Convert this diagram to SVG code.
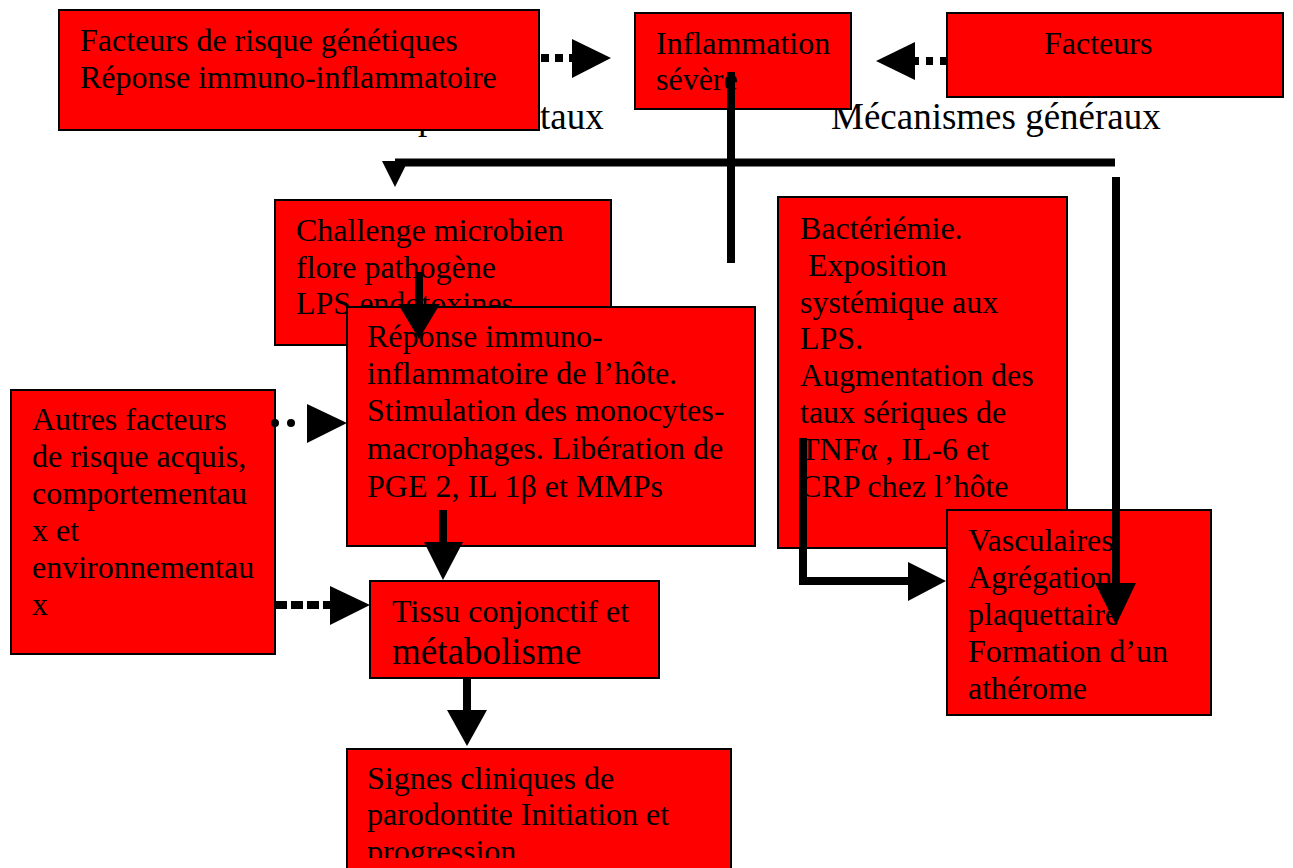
<svg xmlns="http://www.w3.org/2000/svg" width="1293" height="868" viewBox="0 0 1293 868">
<style>
.box{fill:#ff0000;stroke:#000;stroke-width:2}
.t{font-family:"Liberation Serif","Times New Roman",serif;font-size:32px;fill:#000}
.big{font-family:"Liberation Serif","Times New Roman",serif;font-size:37px;fill:#000}
.ln{fill:none;stroke:#000;stroke-width:8}
.head{fill:#000}
</style>
<defs>
<clipPath id="clipH"><rect x="347" y="749" width="384" height="109"/></clipPath>
</defs>
<rect width="1293" height="868" fill="#fff"/>
<g id="label-parodontaux">
<text class="big" x="418" y="129">p</text>
<text class="big" x="540" y="129">taux</text>
</g>
<g id="label-generaux">
<text class="big" x="831" y="129">Mécanismes généraux</text>
</g>
<g id="node-genetiques">
<rect class="box" x="59" y="10" width="480" height="120"/>
<text class="t" x="80" y="51">Facteurs de risque génétiques</text>
<text class="t" x="80" y="88">Réponse immuno-inflammatoire</text>
</g>
<g id="node-inflammation">
<rect class="box" x="635" y="13" width="216" height="96"/>
<text class="t" x="656" y="54">Inflammation</text>
<text class="t" x="656" y="90">sévère</text>
</g>
<g id="node-facteurs">
<rect class="box" x="947" y="13" width="336" height="84"/>
<text class="t" x="1044" y="54">Facteurs</text>
</g>
<g id="node-challenge">
<rect class="box" x="275" y="200" width="336" height="145"/>
<text class="t" x="296" y="241">Challenge microbien</text>
<text class="t" x="296" y="278">flore pathogène</text>
<text class="t" x="296" y="314">LPS endotoxines</text>
</g>
<g id="node-reponse">
<rect class="box" x="347" y="307" width="408" height="239"/>
<text class="t" x="367" y="347">Réponse immuno-</text>
<text class="t" x="367" y="384">inflammatoire de l’hôte.</text>
<text class="t" x="367" y="421">Stimulation des monocytes-</text>
<text class="t" x="367" y="459">macrophages. Libération de</text>
<text class="t" x="367" y="497">PGE 2, IL 1β et MMPs</text>
</g>
<g id="node-autres">
<rect class="box" x="11" y="390" width="264" height="264"/>
<text class="t" x="32" y="430">Autres facteurs</text>
<text class="t" x="32" y="467">de risque acquis,</text>
<text class="t" x="32" y="504">comportementau</text>
<text class="t" x="32" y="541">x et</text>
<text class="t" x="32" y="578">environnementau</text>
<text class="t" x="32" y="615">x</text>
</g>
<g id="node-tissu">
<rect class="box" x="370" y="581" width="289" height="97"/>
<text class="t" x="392" y="622">Tissu conjonctif et</text>
<text class="big" x="392" y="664">métabolisme</text>
</g>
<g id="node-signes">
<rect class="box" x="347" y="749" width="384" height="140"/>
<g clip-path="url(#clipH)">
<text class="t" x="367" y="789">Signes cliniques de</text>
<text class="t" x="367" y="825">parodontite Initiation et</text>
<text class="t" x="367" y="862">progression</text>
</g>
</g>
<g id="node-bacteriemie">
<rect class="box" x="778" y="197" width="289" height="351"/>
<text class="t" x="800" y="239">Bactériémie.</text>
<text class="t" x="808" y="276">Exposition</text>
<text class="t" x="800" y="313">systémique aux</text>
<text class="t" x="800" y="349">LPS.</text>
<text class="t" x="800" y="386">Augmentation des</text>
<text class="t" x="800" y="423">taux sériques de</text>
<text class="t" x="800" y="460">TNFα , IL-6 et</text>
<text class="t" x="800" y="497">CRP chez l’hôte</text>
</g>
<g id="node-vasculaires">
<rect class="box" x="947" y="510" width="264" height="205"/>
<text class="t" x="968" y="551">Vasculaires</text>
<text class="t" x="968" y="588">Agrégation</text>
<text class="t" x="968" y="625">plaquettaire</text>
<text class="t" x="968" y="662">Formation d’un</text>
<text class="t" x="968" y="699">athérome</text>
</g>
<g id="connectors">
<path class="ln" d="M541 58 H572" stroke-dasharray="8 6"/>
<polygon class="head" points="572,39 572,78 611,58"/>
<path class="ln" d="M947 61 H915" stroke-dasharray="7 7"/>
<polygon class="head" points="915,42 915,80 876,61"/>
<path class="ln" d="M731 72 V263"/>
<path class="ln" stroke-width="7" d="M395 162.5 H1115"/>
<polygon class="head" points="382,161 408,161 395,187"/>
<path class="ln" d="M1116 177 V584"/>
<polygon class="head" points="1095,583 1136,583 1116,625"/>
<path class="ln" d="M419 272 V306"/>
<polygon class="head" points="398,304 440,304 419,339"/>
<path class="ln" stroke-width="7" stroke-linecap="round" stroke-dasharray="0 16" d="M275 423 H307"/>
<polygon class="head" points="307,404 307,443 347,423"/>
<path class="ln" stroke-width="10" stroke-dasharray="12 4" d="M275 605 H330"/>
<polygon class="head" points="330,586 330,625 370,605"/>
<path class="ln" d="M443 510 V543"/>
<polygon class="head" points="424,542 463,542 443,580"/>
<path class="ln" d="M467 678 V711"/>
<polygon class="head" points="447,710 487,710 467,746"/>
<path class="ln" d="M803 438 V581 H910"/>
<polygon class="head" points="908,562 908,601 946,581"/>
</g>
</svg>
